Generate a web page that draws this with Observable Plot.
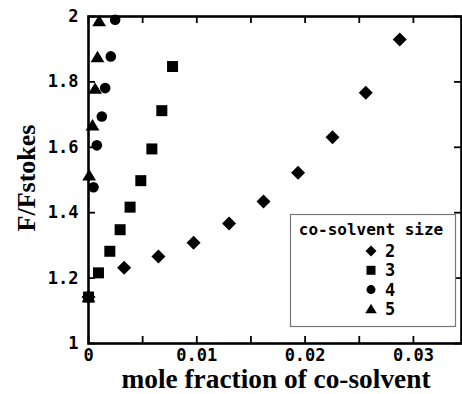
<!DOCTYPE html>
<html>
<head>
<meta charset="utf-8">
<script src="https://cdn.jsdelivr.net/npm/d3@7"></script>
<script src="https://cdn.jsdelivr.net/npm/@observablehq/plot@0.6"></script>
<style>
  html, body { margin: 0; padding: 0; background: #fff; }
</style>
</head>
<body>
<div id="chart"></div>
<script>
// Data: co-solvent size series (x = mole fraction of co-solvent, y = F/Fstokes)
const sizeLabels = ["2", "3", "4", "5"];
const x2 = [0, 0.00329, 0.00646, 0.0097, 0.01298, 0.01616, 0.01935, 0.02253, 0.0256, 0.02874];
const y2 = [1.142, 1.232, 1.266, 1.308, 1.367, 1.434, 1.522, 1.631, 1.767, 1.930];
const x3 = [0, 0.00092, 0.00197, 0.00292, 0.00384, 0.00483, 0.00585, 0.00677, 0.00776];
const y3 = [1.142, 1.216, 1.282, 1.348, 1.417, 1.498, 1.595, 1.712, 1.847];
const x4 = [0, 0.00046, 0.00077, 0.00123, 0.00154, 0.00206, 0.00246];
const y4 = [1.142, 1.478, 1.606, 1.694, 1.781, 1.878, 1.990];
const x5 = [0, 0.00006, 0.00037, 0.00061, 0.00083, 0.00098];
const y5 = [1.142, 1.514, 1.667, 1.779, 1.876, 1.986];

const xTickMarks = [0, 0.005, 0.01, 0.015, 0.02, 0.025, 0.03];
const xTickLabels = [0, 0.01, 0.02, 0.03];
const yTicks = [1, 1.2, 1.4, 1.6, 1.8, 2];
const xTitle = "mole fraction of co-solvent";
const yTitle = "F/Fstokes";
const legendTitle = "co-solvent size";

// custom symbols (size = r^2 * PI as passed by Plot)
const rad = size => Math.sqrt(size / Math.PI);
const diamond = {draw(c, size) { const r = rad(size); c.moveTo(0, -r); c.lineTo(r, 0); c.lineTo(0, r); c.lineTo(-r, 0); c.closePath(); }};
const square = {draw(c, size) { const r = rad(size); c.rect(-r, -r, 2 * r, 2 * r); }};
const circle = {draw(c, size) { const r = rad(size); c.moveTo(r, 0); c.arc(0, 0, r, 0, 2 * Math.PI); }};
const triangle = {draw(c, size) { const r = rad(size); c.moveTo(0, -r * 1.05); c.lineTo(r * 1.15, r * 0.85); c.lineTo(-r * 1.15, r * 0.85); c.closePath(); }};

const seriesDefs = [
  {label: sizeLabels[0], xs: x2, ys: y2, symbol: diamond, r: 7, lr: 5.5},
  {label: sizeLabels[1], xs: x3, ys: y3, symbol: square, r: 5.5, lr: 4.5},
  {label: sizeLabels[2], xs: x4, ys: y4, symbol: circle, r: 5.3, lr: 4.5},
  {label: sizeLabels[3], xs: x5, ys: y5, symbol: triangle, r: 6, lr: 5}
];

const dotMarks = seriesDefs.map(s =>
  Plot.dot(s.xs.map((x, i) => ({x, y: s.ys[i]})), {x: "x", y: "y", symbol: s.symbol, r: s.r, fill: "#000", stroke: "none"})
);

const W = 462, H = 394, mT = 16, mB = 51, mL = 88, mR = 1;
const plotW = W - mL - mR, plotH = H - mT - mB;
const tickLen = 7;
const tickStyle = {stroke: "#000", strokeWidth: 1.8};

const chart = Plot.plot({
  width: W,
  height: H,
  marginTop: mT,
  marginBottom: mB,
  marginLeft: mL,
  marginRight: mR,
  style: {fontFamily: "DejaVu Sans Mono", fontWeight: "bold", fontSize: "17px", color: "#000", background: "#fff", overflow: "visible"},
  x: {domain: [0, 0.03444], label: null},
  y: {domain: [1, 2], label: null},
  marks: [
    ...dotMarks,
    Plot.ruleX(xTickMarks, {x: d => d, insetTop: plotH - tickLen, ...tickStyle}),
    Plot.ruleX(xTickMarks, {x: d => d, insetBottom: plotH - tickLen, ...tickStyle}),
    Plot.ruleY(yTicks, {y: d => d, insetRight: plotW - tickLen, ...tickStyle}),
    Plot.ruleY(yTicks, {y: d => d, insetLeft: plotW - tickLen, ...tickStyle}),
    Plot.axisX({anchor: "bottom", ticks: xTickLabels, tickSize: 0, tickPadding: 5, tickFormat: d => d === 0 ? "0" : d.toFixed(2), label: null, fontSize: 17}),
    Plot.axisY({anchor: "left", ticks: yTicks, tickSize: 0, tickPadding: 10, tickFormat: d => Number.isInteger(d) ? String(d) : d.toFixed(1), label: null, fontSize: 17}),
    Plot.frame({stroke: "#000", strokeWidth: 2.6})
  ]
});

document.getElementById("chart").appendChild(chart);

const svg = d3.select(chart);
svg.selectAll("text").attr("font-weight", "bold");

// axis titles
svg.append("text")
  .attr("x", 276).attr("y", 388)
  .attr("text-anchor", "middle")
  .attr("font-family", "Liberation Serif").attr("font-weight", "bold").attr("font-size", 27)
  .attr("textLength", 309).attr("lengthAdjust", "spacingAndGlyphs")
  .text(xTitle);
svg.append("text")
  .attr("transform", "translate(35,178) rotate(-90)")
  .attr("text-anchor", "middle")
  .attr("font-family", "Liberation Serif").attr("font-weight", "bold").attr("font-size", 26)
  .text(yTitle);

// legend
const lg = svg.append("g");
lg.append("rect").attr("x", 290.5).attr("y", 214.5).attr("width", 165).attr("height", 112)
  .attr("fill", "#fff").attr("stroke", "#777").attr("stroke-width", 1.2);
lg.append("text").attr("x", 371).attr("y", 235)
  .attr("text-anchor", "middle").attr("font-family", "DejaVu Sans Mono").attr("font-weight", "bold").attr("font-size", 16)
  .text(legendTitle);
seriesDefs.forEach((s, i) => {
  const cy = 251 + i * 19.3;
  const p = d3.path();
  s.symbol.draw(p, Math.PI * s.lr * s.lr);
  lg.append("path").attr("transform", `translate(371,${cy})`).attr("d", p.toString()).attr("fill", "#000");
  lg.append("text").attr("x", 390).attr("y", cy).attr("dy", "0.36em")
    .attr("font-family", "DejaVu Sans Mono").attr("font-weight", "bold").attr("font-size", 17)
    .text(s.label);
});
</script>
</body>
</html>
